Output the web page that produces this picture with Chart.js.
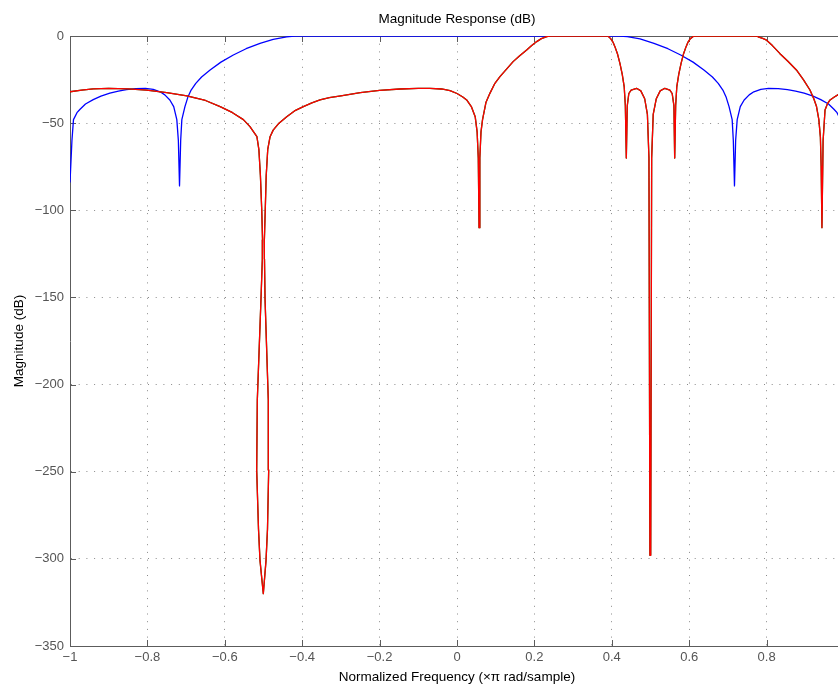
<!DOCTYPE html>
<html>
<head>
<meta charset="utf-8">
<script src="https://cdn.jsdelivr.net/npm/chart.js@4.4.1/dist/chart.umd.min.js"></script>
<style>
  html, body { margin: 0; padding: 0; overflow: hidden; background: #fff; }
  #wrap { position: absolute; left: 0; top: 0; width: 852px; height: 686px; }
</style>
</head>
<body>
<div id="wrap"><canvas id="magChart" width="852" height="686"></canvas></div>
<script>
// 필터 1 (파랑) - 주파수 / 크기 (dB)
const blueFreq = [
  -1.000, -0.995, -0.991, -0.982, -0.974, -0.960, -0.940, -0.920, -0.897, -0.875,
  -0.854, -0.830, -0.805, -0.785, -0.767, -0.755, -0.742, -0.732, -0.724, -0.720,
  -0.717, -0.714, -0.711, -0.703, -0.695, -0.687, -0.675, -0.660, -0.638, -0.610,
  -0.578, -0.545, -0.509, -0.475, -0.440, -0.420,
  0.420, 0.440, 0.473, 0.509, 0.545, 0.578, 0.610, 0.638, 0.660, 0.675,
  0.687, 0.695, 0.703, 0.711, 0.714, 0.717, 0.720, 0.724, 0.732, 0.742,
  0.755, 0.767, 0.785, 0.805, 0.830, 0.854, 0.875, 0.897, 0.920, 0.940,
  0.960, 0.974, 0.982, 0.991, 0.995, 1.000
];
const blueDb = [
  -84, -60, -48, -44, -42, -39, -36.5, -34.5, -32.8, -31.6,
  -30.8, -30.2, -30.0, -30.6, -32, -33.8, -36.7, -40.5, -48, -60,
  -86, -60, -48, -40.5, -34.8, -31, -27.2, -23.5, -19.5, -15,
  -10.9, -7.3, -4.2, -2, -0.5, 0,
  0, -0.4, -1.6, -4.2, -7.3, -10.9, -15, -19.5, -23.5, -27.2,
  -31, -34.8, -40.5, -48, -60, -86, -60, -48, -40.5, -36.7,
  -33.8, -32, -30.6, -30.0, -30.2, -30.8, -31.6, -32.8, -34.5, -36.5,
  -39, -42, -44, -48, -60, -84
];

// 필터 2 (빨강) - 주파수 / 크기 (dB)
const redFreq = [
  -1.000, -0.970, -0.940, -0.900, -0.850, -0.802, -0.750, -0.698, -0.650, -0.612,
  -0.580, -0.552, -0.535, -0.517, -0.512, -0.508, -0.5045, -0.5025, -0.503,
  -0.5065, -0.516, -0.5176, -0.5129, -0.509, -0.5005, -0.4935, -0.4897, -0.4866, -0.4876,
  -0.496, -0.4975, -0.4978, -0.4955, -0.493, -0.489, -0.483, -0.475, -0.460, -0.440,
  -0.420, -0.397, -0.375, -0.354, -0.330,
  -0.300, -0.250, -0.200, -0.147, -0.100, -0.070, -0.040, -0.018, 0.000, 0.015,
  0.025, 0.037, 0.047, 0.052, 0.055, 0.057, 0.059, 0.062, 0.066, 0.075,
  0.085, 0.097, 0.111, 0.128, 0.145, 0.162, 0.180, 0.193, 0.206, 0.218,
  0.232, 0.240, 0.390, 0.397, 0.403, 0.408, 0.415, 0.421, 0.427, 0.432,
  0.435, 0.4375, 0.440, 0.444, 0.450, 0.464, 0.475, 0.485, 0.492, 0.496,
  0.4985, 0.5005, 0.503, 0.507, 0.515, 0.525, 0.537, 0.550, 0.556, 0.5605,
  0.5625, 0.565, 0.568, 0.573, 0.579, 0.585, 0.592, 0.597, 0.603, 0.612,
  0.774, 0.780, 0.790, 0.800, 0.815, 0.834, 0.855, 0.877, 0.895, 0.912,
  0.922, 0.929, 0.935, 0.939, 0.941, 0.943, 0.946, 0.951, 0.957, 0.964,
  0.975, 0.984, 1.000
];
const redDb = [
  -32, -31, -30.3, -30, -30.3, -31, -32.5, -34.4, -37, -40.5,
  -44, -48, -52, -57.8, -65, -80, -100, -117, -128,
  -151, -209, -249, -283, -301, -320, -301, -283, -249, -209,
  -151, -128, -117, -100, -80, -65, -57.8, -54, -50, -46.3,
  -43, -40.5, -38.4, -36.7, -35.4,
  -34.4, -32.5, -31.2, -30.4, -30, -30, -30.4, -31.4, -33, -35,
  -36.7, -40.5, -46.3, -55, -70, -110, -70, -55, -48, -38,
  -32.9, -27.5, -23.3, -19, -14.7, -11.3, -8, -5.5, -3.2, -1.5,
  -0.3, 0, 0, -1.5, -3.5, -6.1, -10.5, -15.7, -22, -29,
  -40, -70, -40, -33, -31, -30, -31.5, -36, -45, -70,
  -298, -298, -70, -45, -36, -31.5, -30, -31, -33, -40,
  -70, -40, -29, -22, -15.7, -10.5, -6.1, -3.5, -1.5, 0,
  0, -0.6, -1.4, -2.4, -5.5, -10, -14.5, -19.5, -25, -31,
  -36, -40.5, -48, -58, -75, -110, -60, -42.5, -39, -36.7,
  -35, -33.8, -33
];

const axisColor = '#5c5c5c';
const tickColor = '#555555';
const fontFamily = "'Liberation Sans', Arial, Helvetica, sans-serif";

function toPoints(xs, ys) {
  return xs.map((x, i) => ({ x: x, y: ys[i] }));
}

// 수학 기호 마이너스로 표시
function fmtTick(value) {
  const v = Math.round(value * 10) / 10;
  return String(v).replace('-', '\u2212');
}

// 위/오른쪽 테두리와 안쪽 눈금
const framePlugin = {
  id: 'frame',
  beforeDatasetsDraw(chart) {
    const { ctx, chartArea: a, scales } = chart;
    const x = scales.x, y = scales.y;
    ctx.save();
    ctx.strokeStyle = axisColor;
    ctx.lineWidth = 1;
    ctx.beginPath();
    ctx.moveTo(a.left, a.top + 0.5);
    ctx.lineTo(a.right, a.top + 0.5);
    ctx.moveTo(a.right - 0.5, a.top);
    ctx.lineTo(a.right - 0.5, a.bottom);
    x.ticks.forEach(t => {
      const px = Math.round(x.getPixelForValue(t.value)) + 0.5;
      ctx.moveTo(px, a.bottom);
      ctx.lineTo(px, a.bottom - 6);
      ctx.moveTo(px, a.top);
      ctx.lineTo(px, a.top + 6);
    });
    y.ticks.forEach(t => {
      const py = Math.round(y.getPixelForValue(t.value)) + 0.5;
      ctx.moveTo(a.left, py);
      ctx.lineTo(a.left + 6, py);
      ctx.moveTo(a.right, py);
      ctx.lineTo(a.right - 6, py);
    });
    ctx.stroke();
    ctx.restore();
  }
};

function lineSet(label, data, color, order) {
  return {
    label: label,
    data: data,
    borderColor: color,
    backgroundColor: color,
    borderWidth: 1.3,
    borderJoinStyle: 'round',
    pointRadius: 0,
    tension: 0,
    fill: false,
    order: order
  };
}

const ctx = document.getElementById('magChart');
new Chart(ctx, {
  type: 'line',
  data: {
    datasets: [
      lineSet('Filter #2', toPoints(redFreq, redDb), '#ff0000', 0),
      lineSet('Filter #3', toPoints(redFreq, redDb), '#006400', 1),
      lineSet('Filter #1', toPoints(blueFreq, blueDb), '#0000ff', 2)
    ]
  },
  options: {
    responsive: false,
    animation: false,
    events: [],
    layout: { padding: { left: 0, right: 8, top: 0, bottom: 0 } },
    plugins: {
      legend: { display: false },
      tooltip: { enabled: false },
      title: {
        display: true,
        text: 'Magnitude Response (dB)',
        color: '#000',
        fullSize: false,
        font: { family: fontFamily, size: 13.5, weight: 'normal' },
        padding: { top: 11.5, bottom: 8.3 }
      }
    },
    scales: {
      x: {
        type: 'linear',
        min: -1,
        max: 1,
        afterFit: s => { s.height = 40; },
        ticks: {
          stepSize: 0.2,
          padding: 4,
          color: tickColor,
          maxRotation: 0,
          font: { family: fontFamily, size: 13 },
          callback: fmtTick
        },
        grid: { color: '#8a8a8a', lineWidth: 1, drawTicks: false },
        border: { display: true, color: axisColor, width: 1, dash: [1, 6.7] },
        title: {
          display: true,
          text: 'Normalized Frequency (\u00d7\u03c0 rad/sample)',
          color: '#000',
          font: { family: fontFamily, size: 13.5 },
          padding: { top: 0, bottom: 1 }
        }
      },
      y: {
        type: 'linear',
        min: -350,
        max: 0,
        afterFit: s => { s.width = 70; },
        ticks: {
          stepSize: 50,
          padding: 6,
          color: tickColor,
          font: { family: fontFamily, size: 13 },
          callback: fmtTick
        },
        grid: { color: '#8a8a8a', lineWidth: 1, drawTicks: false },
        border: { display: true, color: axisColor, width: 1, dash: [1, 6.7] },
        title: {
          display: true,
          text: 'Magnitude (dB)',
          color: '#000',
          font: { family: fontFamily, size: 13.5 },
          padding: { top: 11, bottom: 0 }
        }
      }
    }
  },
  plugins: [framePlugin]
});
</script>
</body>
</html>
